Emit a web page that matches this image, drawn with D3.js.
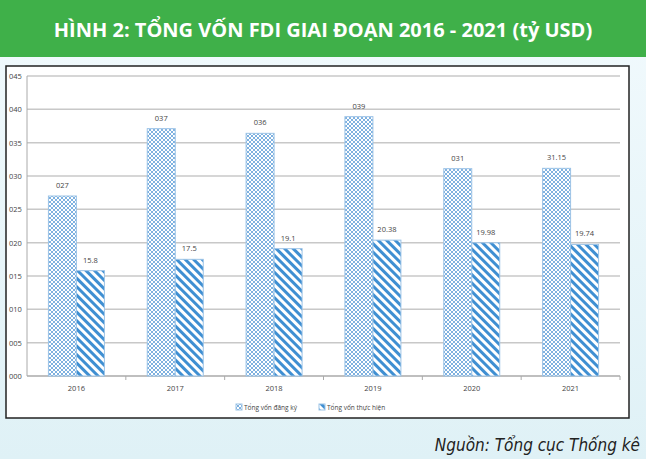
<!DOCTYPE html>
<html lang="vi">
<head>
<meta charset="utf-8" />
<script src="https://cdn.jsdelivr.net/npm/d3@7"></script>
<style>
  body { margin: 0; background: #e4f3f8; font-family: "Open Sans", sans-serif; }
</style>
</head>
<body>
<script>
  var years = ["2016", "2017", "2018", "2019", "2020", "2021"];
  var registered = [27, 37.1, 36.4, 38.9, 31.1, 31.15];
  var registeredLabels = ["027", "037", "036", "039", "031", "31.15"];
  var realized = [15.8, 17.5, 19.1, 20.38, 19.98, 19.74];
  var realizedLabels = ["15.8", "17.5", "19.1", "20.38", "19.98", "19.74"];
  var ticks = [0, 5, 10, 15, 20, 25, 30, 35, 40, 45];
  var tickLabels = ["000", "005", "010", "015", "020", "025", "030", "035", "040", "045"];

  var W = 646, H = 459;
  var svg = d3.select("body").append("svg").attr("width", W).attr("height", H);

  var defs = svg.append("defs");
  var bg = defs.append("linearGradient").attr("id", "bg").attr("x1", 0).attr("y1", 0).attr("x2", 0).attr("y2", 1);
  bg.append("stop").attr("offset", 0).attr("stop-color", "#f2fafd");
  bg.append("stop").attr("offset", 1).attr("stop-color", "#dff1f6");

  var p1 = defs.append("pattern").attr("id", "dots").attr("width", 4).attr("height", 4).attr("patternUnits", "userSpaceOnUse");
  p1.append("rect").attr("width", 4).attr("height", 4).attr("fill", "#fff");
  p1.append("path").attr("d", "M0,0L2,2L0,4M4,0L2,2L4,4").attr("stroke", "#6fa8dc").attr("stroke-width", 0.9).attr("fill", "none");

  var p2 = defs.append("pattern").attr("id", "stripes").attr("width", 6).attr("height", 6)
    .attr("patternUnits", "userSpaceOnUse").attr("patternTransform", "rotate(-45)");
  p2.append("rect").attr("width", 6).attr("height", 6).attr("fill", "#fff");
  p2.append("rect").attr("width", 3).attr("height", 6).attr("fill", "#3f8fd2");

  svg.append("rect").attr("width", W).attr("height", H).attr("fill", "url(#bg)");
  svg.append("rect").attr("width", W).attr("height", 57).attr("fill", "#3fb049");
  svg.append("text").attr("x", W / 2).attr("y", 37).attr("text-anchor", "middle")
    .attr("fill", "#fff").attr("font-size", 20).attr("font-weight", "bold")
    .text("HÌNH 2: TỔNG VỐN FDI GIAI ĐOẠN 2016 - 2021 (tỷ USD)");

  svg.append("rect").attr("x", 6).attr("y", 66).attr("width", 623).attr("height", 352)
    .attr("fill", "#fff").attr("stroke", "#222").attr("stroke-width", 1.5);

  var pL = 27, pR = 620, pT = 76, pB = 376;
  var x = d3.scaleBand().domain(years).range([pL, pR]);
  var y = d3.scaleLinear().domain([0, 45]).range([pB, pT]);

  var grid = svg.append("g");
  grid.selectAll("line").data(ticks).enter().append("line")
    .attr("x1", pL).attr("x2", pR).attr("y1", function(d) { return y(d); }).attr("y2", function(d) { return y(d); })
    .attr("stroke", function(d) { return d === 0 ? "#aaa" : "#c8c8c8"; }).attr("stroke-width", 1.5);
  svg.append("line").attr("x1", pL).attr("x2", pL).attr("y1", pT).attr("y2", pB).attr("stroke", "#aaa");

  grid.selectAll("text").data(ticks).enter().append("text")
    .attr("x", 9).attr("y", function(d) { return y(d) + 3; })
    .attr("font-size", 7.5).attr("fill", "#444").text(function(d, i) { return tickLabels[i]; });

  svg.selectAll(".tick").data(years).enter().append("line")
    .attr("x1", function(d) { return x(d) + x.bandwidth(); }).attr("x2", function(d) { return x(d) + x.bandwidth(); })
    .attr("y1", pB).attr("y2", pB + 4).attr("stroke", "#aaa");

  svg.selectAll(".yl").data(years).enter().append("text")
    .attr("x", function(d) { return x(d) + x.bandwidth() / 2; }).attr("y", 391)
    .attr("text-anchor", "middle").attr("font-size", 7.5).attr("fill", "#444").text(function(d) { return d; });

  var bw = 28;
  var series = [
    { vals: registered, labels: registeredLabels, fill: "url(#dots)", stroke: "#9cc3e6", off: -bw },
    { vals: realized, labels: realizedLabels, fill: "url(#stripes)", stroke: "#9cc3e6", off: 0 }
  ];
  series.forEach(function(s) {
    var g = svg.append("g");
    g.selectAll("rect").data(years).enter().append("rect")
      .attr("x", function(d) { return x(d) + x.bandwidth() / 2 + s.off; })
      .attr("y", function(d, i) { return y(s.vals[i]); })
      .attr("width", bw).attr("height", function(d, i) { return pB - y(s.vals[i]); })
      .attr("fill", s.fill).attr("stroke", s.stroke);
    g.selectAll("text").data(years).enter().append("text")
      .attr("x", function(d) { return x(d) + x.bandwidth() / 2 + s.off + bw / 2; })
      .attr("y", function(d, i) { return y(s.vals[i]) - 8; })
      .attr("text-anchor", "middle").attr("font-size", 7.5).attr("fill", "#444")
      .text(function(d, i) { return s.labels[i]; });
  });

  var legend = [["url(#dots)", "Tổng vốn đăng ký", 236], ["url(#stripes)", "Tổng vốn thực hiện", 319]];
  legend.forEach(function(l) {
    svg.append("rect").attr("x", l[2]).attr("y", 404).attr("width", 6).attr("height", 6).attr("fill", l[0]).attr("stroke", "#9cc3e6");
    svg.append("text").attr("x", l[2] + 8).attr("y", 410).attr("font-size", 6.5).attr("fill", "#444").text(l[1]);
  });

  svg.append("text").attr("x", 640).attr("y", 451).attr("text-anchor", "end")
    .attr("font-size", 17).attr("font-style", "italic").attr("fill", "#222")
    .attr("font-family", "Liberation Sans Narrow, DejaVu Sans Condensed, sans-serif")
    .text("Nguồn: Tổng cục Thống kê");
</script>
</body>
</html>
